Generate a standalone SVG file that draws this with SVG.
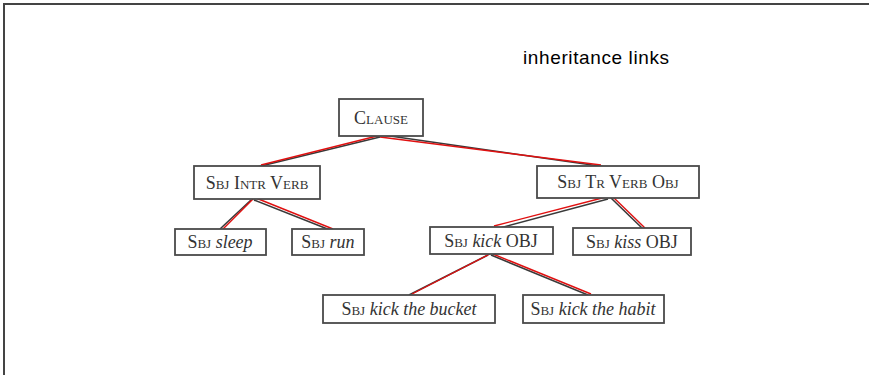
<svg xmlns="http://www.w3.org/2000/svg" width="869" height="375" viewBox="0 0 869 375">
<style>
.box{fill:#fff;stroke:#4a4a4a;stroke-width:1.8}
.t{font-family:"Liberation Serif","Times New Roman",serif;font-size:18px;fill:#333;text-anchor:middle}
.sc{font-variant:small-caps}
.it{font-style:italic}
.dk{stroke:#3a3a3a;stroke-width:1.6;fill:none}
.rd{stroke:#e01010;stroke-width:1.4;fill:none}
.lab{font-family:"Liberation Sans",Arial,sans-serif;font-size:19px;fill:#000}
</style>
<rect width="869" height="375" fill="#fff"/>
<path d="M4 375 V4 H869" fill="none" stroke="#444" stroke-width="2"/>
<text class="lab" x="523" y="64" textLength="146">inheritance links</text>
<g id="connectors">
<line class="dk" x1="380" y1="137" x2="257" y2="167"/>
<line class="rd" x1="381" y1="135" x2="261" y2="165"/>
<line class="dk" x1="383" y1="135" x2="606" y2="167"/>
<line class="rd" x1="380" y1="137" x2="601" y2="165"/>
<line class="dk" x1="251" y1="200" x2="220" y2="229"/>
<line class="rd" x1="253" y1="199" x2="223" y2="229"/>
<line class="dk" x1="254" y1="200" x2="330" y2="230"/>
<line class="rd" x1="256" y1="198" x2="333" y2="229"/>
<line class="dk" x1="608" y1="199" x2="496" y2="229"/>
<line class="rd" x1="606" y1="197" x2="494" y2="226"/>
<line class="dk" x1="611" y1="198" x2="642" y2="228"/>
<line class="rd" x1="613" y1="197" x2="645" y2="228"/>
<line class="dk" x1="488" y1="255" x2="409" y2="295"/>
<line class="rd" x1="490" y1="254" x2="412" y2="294"/>
<line class="dk" x1="491" y1="255" x2="588" y2="295"/>
<line class="rd" x1="493" y1="254" x2="591" y2="294"/>
</g>
<g id="clause"><rect class="box" x="339" y="99" width="84" height="37"/><text class="t sc" x="381" y="124">Clause</text></g>
<g id="sbj-intr-verb"><rect class="box" x="194" y="166" width="126" height="33"/><text class="t sc" x="257" y="189">Sbj Intr Verb</text></g>
<g id="sbj-tr-verb-obj"><rect class="box" x="537" y="166" width="162" height="32"/><text class="t sc" x="618" y="188">Sbj Tr Verb Obj</text></g>
<g id="sbj-sleep"><rect class="box" x="175" y="229" width="91" height="26"/><text class="t" x="220" y="248"><tspan class="sc">Sbj</tspan> <tspan class="it">sleep</tspan></text></g>
<g id="sbj-run"><rect class="box" x="292" y="229" width="72" height="26"/><text class="t" x="328" y="248"><tspan class="sc">Sbj</tspan> <tspan class="it">run</tspan></text></g>
<g id="sbj-kick-obj"><rect class="box" x="430" y="227" width="123" height="27"/><text class="t" x="491" y="247"><tspan class="sc">Sbj</tspan> <tspan class="it">kick</tspan> OBJ</text></g>
<g id="sbj-kiss-obj"><rect class="box" x="573" y="228" width="118" height="27"/><text class="t" x="632" y="248"><tspan class="sc">Sbj</tspan> <tspan class="it">kiss</tspan> OBJ</text></g>
<g id="sbj-kick-the-bucket"><rect class="box" x="323" y="295" width="172" height="28"/><text class="t" x="409" y="315"><tspan class="sc">Sbj</tspan> <tspan class="it">kick the bucket</tspan></text></g>
<g id="sbj-kick-the-habit"><rect class="box" x="523" y="295" width="141" height="28"/><text class="t" x="593" y="315"><tspan class="sc">Sbj</tspan> <tspan class="it">kick the habit</tspan></text></g>
</svg>
